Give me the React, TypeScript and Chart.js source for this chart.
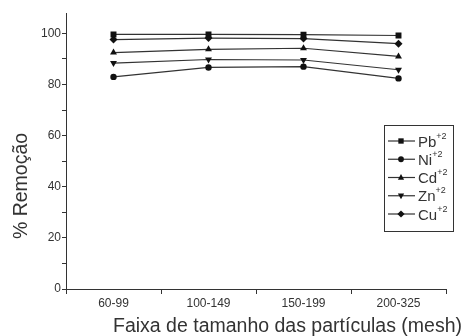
import React, { useEffect, useRef } from "react";
import { Chart, registerables } from "chart.js";

Chart.register(...registerables);

const categories = ["60-99", "100-149", "150-199", "200-325"];
const pb = [99.6, 99.6, 99.5, 99.2];
const ni = [83.0, 86.7, 87.0, 82.4];
const cd = [92.5, 93.8, 94.2, 91.0];
const zn = [88.4, 89.8, 89.6, 85.8];
const cu = [97.6, 98.2, 98.0, 96.0];

const seriesNames = ["Pb", "Ni", "Cd", "Zn", "Cu"];
const seriesValues = [pb, ni, cd, zn, cu];
const pointStyles = ["rect", "circle", "triangle", "triangle", "rectRot"];
const pointRotations = [0, 0, 0, 180, 0];
const pointRadii = [4.2, 3.2, 4, 4, 4];

const yTitle = "% Remoção";
const xTitle = "Faixa de tamanho das partículas (mesh)";

const FONT = "'Liberation Sans', Arial, sans-serif";
const INK = "#333";

function drawMarker(ctx: any, style: string, rot: number, r: number, x: number, y: number) {
  ctx.save();
  ctx.translate(x, y);
  ctx.rotate((rot * Math.PI) / 180);
  ctx.beginPath();
  if (style === "rect") {
    const s = Math.SQRT1_2 * r;
    ctx.rect(-s, -s, 2 * s, 2 * s);
  } else if (style === "circle") {
    ctx.arc(0, 0, r, 0, Math.PI * 2);
  } else if (style === "triangle") {
    ctx.moveTo(0, -r);
    ctx.lineTo(r * 0.866, r * 0.5 + 0.5);
    ctx.lineTo(-r * 0.866, r * 0.5 + 0.5);
    ctx.closePath();
  } else {
    ctx.moveTo(0, -r);
    ctx.lineTo(r, 0);
    ctx.lineTo(0, r);
    ctx.lineTo(-r, 0);
    ctx.closePath();
  }
  ctx.fill();
  ctx.restore();
}

export default function App() {
  const ref = useRef<HTMLCanvasElement | null>(null);
  useEffect(() => {
    if (!ref.current) return;
    const titlePlugin = {
      id: "customText",
      afterDraw(chart: any) {
        const ctx = chart.ctx;
        const a = chart.chartArea;
        ctx.save();
        ctx.fillStyle = INK;
        ctx.font = `19.5px ${FONT}`;
        ctx.textAlign = "right";
        ctx.textBaseline = "alphabetic";
        ctx.fillText(xTitle, a.right + 16, 332);
        ctx.save();
        ctx.translate(27, 186);
        ctx.rotate(-Math.PI / 2);
        ctx.textAlign = "center";
        ctx.fillText(yTitle, 0, 0);
        ctx.restore();

        // legend
        const bx = 384, by = 125, bw = 69, bh = 106;
        ctx.strokeStyle = INK;
        ctx.lineWidth = 1;
        ctx.strokeRect(bx + 0.5, by + 0.5, bw, bh);
        const rowH = 18.25;
        chart.data.datasets.forEach((ds: any, i: number) => {
          const y = by + 16 + i * rowH;
          ctx.beginPath();
          ctx.lineWidth = 1.2;
          ctx.strokeStyle = INK;
          ctx.moveTo(bx + 4, y);
          ctx.lineTo(bx + 31, y);
          ctx.stroke();
          ctx.fillStyle = "#111";
          drawMarker(ctx, pointStyles[i], pointRotations[i], pointRadii[i] * 0.9, bx + 17, y);
          ctx.fillStyle = INK;
          ctx.font = `15px ${FONT}`;
          ctx.textAlign = "left";
          ctx.textBaseline = "alphabetic";
          ctx.fillText(seriesNames[i], bx + 34, y + 5.5);
          const w = ctx.measureText(seriesNames[i]).width;
          ctx.font = `9px ${FONT}`;
          ctx.fillText("+2", bx + 34 + w, y - 2.5);
        });
        ctx.restore();
      },
    };

    const chart = new Chart(ref.current, {
      type: "line",
      data: {
        labels: categories,
        datasets: seriesValues.map((v, i) => ({
          label: seriesNames[i],
          data: v,
          borderColor: INK,
          backgroundColor: "#111",
          borderWidth: 1.2,
          pointStyle: pointStyles[i] as any,
          rotation: pointRotations[i],
          pointRadius: pointRadii[i],
          pointBorderWidth: 0,
          tension: 0,
        })),
      },
      options: {
        animation: false,
        responsive: false,
        events: [],
        layout: { padding: { left: 0, right: 18, top: 13, bottom: 0 } },
        plugins: { legend: { display: false }, tooltip: { enabled: false } },
        scales: {
          x: {
            type: "category",
            offset: true,
            grid: {
              offset: true,
              drawOnChartArea: false,
              drawTicks: true,
              tickLength: 5,
              color: INK,
            },
            border: { color: INK, width: 1 },
            ticks: {
              color: INK,
              font: { family: FONT, size: 12 },
              padding: 2,
              maxRotation: 0,
            },
            afterFit(scale: any) {
              scale.height = 47;
            },
          },
          y: {
            min: 0,
            max: 108,
            afterBuildTicks(scale: any) {
              const t = [];
              for (let v = 0; v <= 100; v += 10) t.push({ value: v });
              scale.ticks = t;
            },
            grid: {
              drawOnChartArea: false,
              drawTicks: true,
              tickLength: 4,
              color: INK,
            },
            border: { color: INK, width: 1 },
            ticks: {
              color: INK,
              font: { family: FONT, size: 12 },
              padding: 1,
              callback: (v: any) => (Number(v) % 20 === 0 ? String(v) : ""),
            },
            afterFit(scale: any) {
              scale.width = 66;
            },
          },
        },
      },
      plugins: [titlePlugin],
    });
    return () => chart.destroy();
  }, []);
  return (
    <div style={{ position: "fixed", left: 0, top: 0, width: 464, height: 336, background: "#fff" }}>
      <canvas ref={ref} width={464} height={336} style={{ width: 464, height: 336 }} />
    </div>
  );
}
